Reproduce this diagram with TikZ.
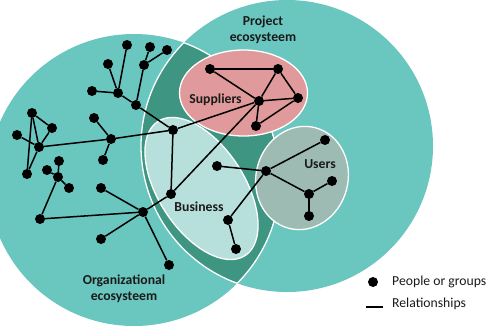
\documentclass[tikz,border=0pt]{standalone}
\usepackage{fontspec}
\setmainfont{Carlito}
\definecolor{teal1}{HTML}{6AC7BF}
\definecolor{lens}{HTML}{3E9582}
\definecolor{bizc}{HTML}{B7E0DC}
\definecolor{supc}{HTML}{E19A9B}
\definecolor{usec}{HTML}{9DBAB3}
\definecolor{ink}{HTML}{1A1A1A}
\tikzset{
  dot/.style={circle,fill=black,inner sep=0pt,minimum size=10pt},
  link/.style={draw=black,line width=1.5pt},
  leglink/.style={draw=black,line width=1.9pt},
  lbl/.style={font=\bfseries\fontsize{13.7}{16.3}\selectfont,align=center,text=ink,inner sep=0pt},
  leg/.style={font=\fontsize{13.7}{16}\selectfont,anchor=west,text=ink,inner sep=0pt},
  wedge/.style={draw=white,line width=1.3pt}
}
\begin{document}
\begin{tikzpicture}[x=1pt,y=-1pt]
\useasboundingbox (0,0) rectangle (500,325);
\begin{scope}
\clip (0,0) rectangle (500,325);
\fill[teal1] (287,146) circle[radius=146];
\fill[teal1] (134,180) circle[radius=146];
\begin{scope}
\clip (287,146) circle[radius=146];
\fill[lens] (134,180) circle[radius=146];
\end{scope}
\begin{scope}
\clip (287,146) circle[radius=146];
\draw[wedge] (134,180) circle[radius=146];
\end{scope}
\begin{scope}
\clip (134,180) circle[radius=146];
\draw[wedge] (287,146) circle[radius=146];
\end{scope}
\fill[bizc,draw=white,line width=1.3pt,rotate around={-57:(201.5,188.5)}] (201.5,188.5) ellipse[x radius=80,y radius=43];
\fill[supc,draw=white,line width=1.3pt] (243.5,93) ellipse[x radius=64,y radius=43];
\fill[usec,draw=white,line width=1.3pt,rotate around={-15:(302,178)}] (302,178) ellipse[x radius=46,y radius=52];
\end{scope}
% nodes
\foreach \n/\x/\y in {
a1/127/45,a2/150/47,a3/167/50,a4/144/65,a5/108/64,a6/92/91,a7/118/93,a8/136/105,h/173/130,
b1/94/118,b2/111/139,b3/103/160,c1/59/161,c2/32/113,c3/52/128,c4/17/135,c5/39/147,c6/27/174,
d1/47/170,d2/58/177,d3/69/188,d4/40/219,e1/101/188,e2/143/212,e3/101/239,e4/169/265,f/171/194,
g1/217/166,g2/228/220,g3/236/249,
s1/210/69,s2/278/69,s3/298/98,s4/259/101,s5/256/126,
u1/325/140,u2/266/171,u3/309/194,u4/332/181,u5/309/216}
  {\node[dot] (\n) at (\x,\y) {};}
\foreach \p/\q in {a1/a7,a5/a7,a6/a7,a7/a8,a4/a8,a2/a4,a3/a4,a8/h,h/b2,b2/c5,b1/b2,b3/b2,
c2/c3,c3/c5,c4/c5,c2/c5,c2/c6,c5/c6,h/s4,h/f,f/e2,f/s4,e2/d4,d4/d2,d2/c1,d2/d1,d2/d3,e2/e1,e2/e3,e2/e4,
s1/s2,s1/s4,s2/s4,s2/s3,s3/s4,s4/s5,s5/s3,g1/u2,u2/u1,u2/u3,u3/u4,u3/u5,u2/g2,g2/g3}
  {\draw[link] (\p) -- (\q);}
\node[lbl] (tp) at (263,30) {Project\\ecosysteem};
\node[lbl] (ts) at (215.5,100) {Suppliers};
\node[lbl] (tu) at (320,164) {Users};
\node[lbl] (tb) at (199,207) {Business};
\node[lbl] (to) at (124,288.5) {Organizational\\ecosysteem};
\node[dot] (ld) at (373,282) {};
\node[leg] (lt1) at (392,282) {People or groups};
\coordinate (la) at (366,307);
\coordinate (lb) at (383,307);
\draw[leglink] (la) -- (lb);
\node[leg] (lt2) at (392,304) {Relationships};
\end{tikzpicture}
\end{document}
